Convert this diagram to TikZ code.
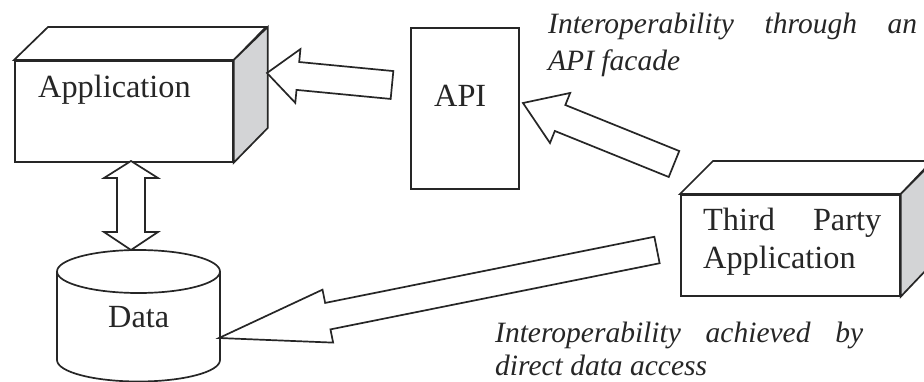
\documentclass[tikz,border=0pt]{standalone}
\usepackage{fontspec}
\setmainfont{Liberation Serif}
\usetikzlibrary{calc}
\definecolor{ink}{HTML}{262626}
\definecolor{sidegray}{HTML}{D3D4D6}
\tikzset{
 ln/.style={draw=ink, line width=1.7pt, line join=miter},
 face/.style={ln, fill=white},
 sideface/.style={ln, fill=sidegray},
 blk/.style={ln, fill=white},
 boxnode/.style={face, inner sep=0pt, anchor=north west},
 lbl/.style={inner sep=0pt, anchor=base west, font=\fontsize{32.3}{38}\selectfont, text=ink},
 note/.style={inner sep=0pt, anchor=base west, font=\fontsize{29.5}{36}\selectfont\itshape, text=ink},
}
% #1 tail, #2 tip, #3 shaft half width, #4 head half width, #5 head length
\newcommand\blockarrow[5]{%
  \coordinate (ba-h) at ($(#2)!#5!(#1)$);
  \draw[blk] ($(#1)!#3!90:(#2)$) -- ($(ba-h)!#3!-90:(#1)$) -- ($(ba-h)!#4!-90:(#1)$)
    -- (#2) -- ($(ba-h)!#4!90:(#1)$) -- ($(ba-h)!#3!90:(#1)$) -- ($(#1)!#3!-90:(#2)$) -- cycle;
}
\begin{document}
\begin{tikzpicture}[x=1pt, y=-1pt]
\clip (0,0) rectangle (924,381);
\fill[white] (0,0) rectangle (924,381);

% Application box
\node[boxnode, minimum width=218pt, minimum height=101pt] (app) at (14,60) {};
\draw[face] (app.north west) -- ++(34,-33) -- ++(218,0) -- (app.north east) -- cycle;
\draw[sideface] (app.north east) -- ++(34,-33) -- ++(0,101) -- (app.south east) -- cycle;
\node[lbl] (applbl) at (38,97) {Application};

% API box
\node[boxnode, minimum width=108pt, minimum height=161pt] (api) at (410,27) {};
\node[lbl] (apilbl) at (434,106) {API};

% Third party box
\node[boxnode, minimum width=219pt, minimum height=101pt] (tpa) at (680,194) {};
\draw[face] (tpa.north west) -- ++(33,-33) -- ++(219,0) -- (tpa.north east) -- cycle;
\draw[sideface] (tpa.north east) -- ++(33,-33) -- ++(0,101) -- (tpa.south east) -- cycle;
\node[lbl] (tp1) at (703,230) {\makebox[178pt]{Third\hfill Party}};
\node[lbl] (tp2) at (703,268) {Application};

% Data cylinder
\draw[face] (57,271.5) -- (57,360) arc[start angle=180, end angle=360, x radius=81.5pt, y radius=21.5pt] -- (220,271.5);
\draw[face] (138.5,271.5) ellipse[x radius=81.5pt, y radius=21.5pt];
\coordinate (data) at (138.5,316);
\node[lbl] (datalbl) at (108,327) {Data};

% notes
\node[note] (n1) at (548,33) {\makebox[369pt]{Interoperability\hfill through\hfill an}};
\node[note] (n2) at (548,70) {API facade};
\node[note] (n3) at (495,342) {\makebox[368pt]{Interoperability\hfill achieved\hfill by}};
\node[note] (n4) at (495,375) {direct data access};

% double arrow application <-> data
\coordinate (dt) at (131,161);
\coordinate (db) at (131,250);
\draw[blk] (dt) -- ($(dt)+(27,17)$) -- ($(dt)+(14,17)$) -- ($(db)+(14,-18)$) -- ($(db)+(27,-18)$)
  -- (db) -- ($(db)+(-27,-18)$) -- ($(db)+(-14,-18)$) -- ($(dt)+(-14,17)$) -- ($(dt)+(-27,17)$) -- cycle;

% API -> Application
\coordinate (a1t) at (392,85);
\coordinate (a1h) at (267,73);
\blockarrow{a1t}{a1h}{14pt}{27pt}{31pt}

% Third party -> API
\coordinate (a2t) at (674,164);
\coordinate (a2h) at (523,103);
\blockarrow{a2t}{a2h}{14pt}{27pt}{40pt}

% Third party -> Data
\coordinate (a3t) at (657,250);
\coordinate (a3h) at (219,338);
\blockarrow{a3t}{a3h}{13.5pt}{27pt}{111pt}
\end{tikzpicture}
\end{document}
